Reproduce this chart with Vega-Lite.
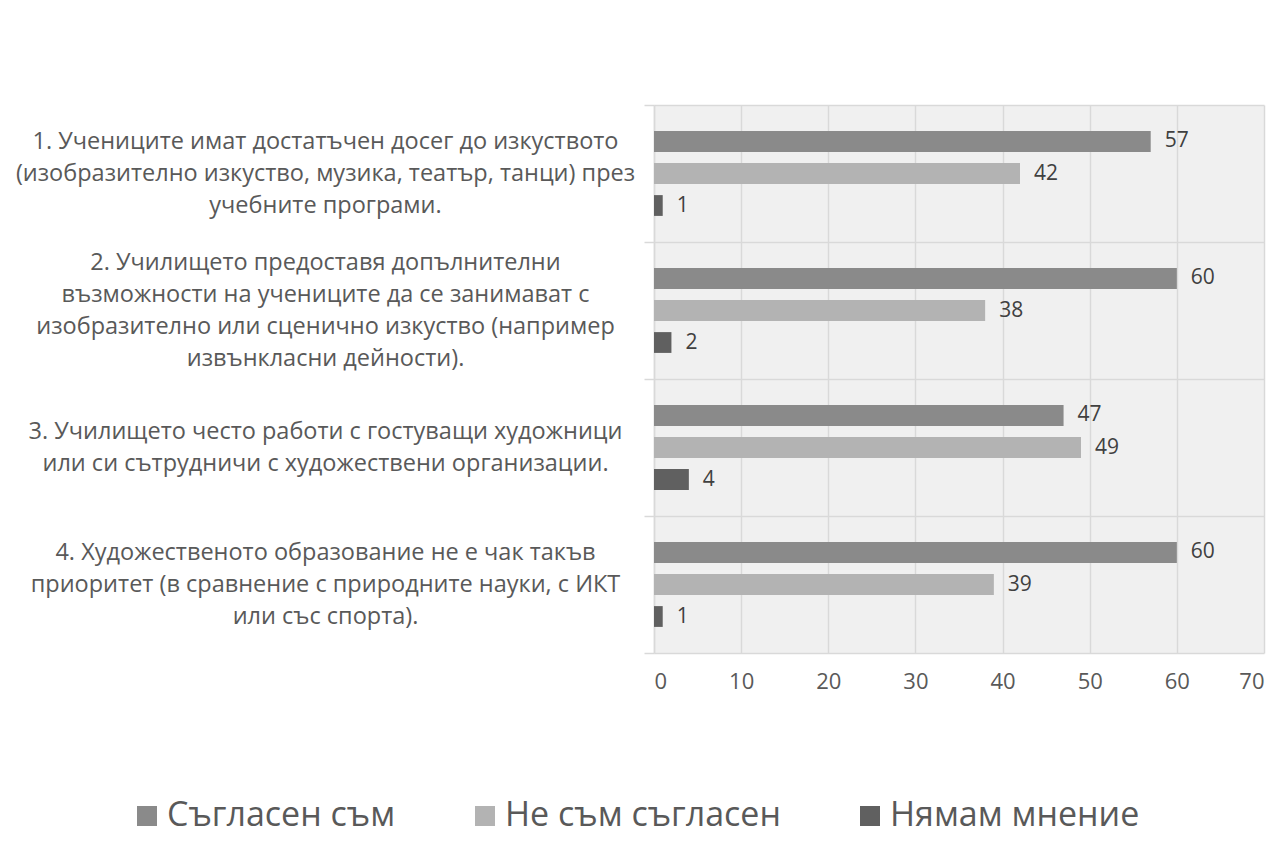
{
  "$schema": "https://vega.github.io/schema/vega-lite/v6.json",
  "width": 610,
  "height": 548,
  "autosize": {"type": "none"},
  "padding": {"left": 654, "top": 105, "right": 16, "bottom": 206},
  "background": "white",
  "data": {
    "values": [
      {"question": "1. Учениците имат достатъчен досег до изкуството\n(изобразително изкуство, музика, театър, танци) през\nучебните програми.", "response": "Съгласен съм", "value": 57},
      {"question": "1. Учениците имат достатъчен досег до изкуството\n(изобразително изкуство, музика, театър, танци) през\nучебните програми.", "response": "Не съм съгласен", "value": 42},
      {"question": "1. Учениците имат достатъчен досег до изкуството\n(изобразително изкуство, музика, театър, танци) през\nучебните програми.", "response": "Нямам мнение", "value": 1},
      {"question": "2. Училището предоставя допълнителни\nвъзможности на учениците да се занимават с\nизобразително или сценично изкуство (например\nизвънкласни дейности).", "response": "Съгласен съм", "value": 60},
      {"question": "2. Училището предоставя допълнителни\nвъзможности на учениците да се занимават с\nизобразително или сценично изкуство (например\nизвънкласни дейности).", "response": "Не съм съгласен", "value": 38},
      {"question": "2. Училището предоставя допълнителни\nвъзможности на учениците да се занимават с\nизобразително или сценично изкуство (например\nизвънкласни дейности).", "response": "Нямам мнение", "value": 2},
      {"question": "3. Училището често работи с гостуващи художници\nили си сътрудничи с художествени организации.", "response": "Съгласен съм", "value": 47},
      {"question": "3. Училището често работи с гостуващи художници\nили си сътрудничи с художествени организации.", "response": "Не съм съгласен", "value": 49},
      {"question": "3. Училището често работи с гостуващи художници\nили си сътрудничи с художествени организации.", "response": "Нямам мнение", "value": 4},
      {"question": "4. Художественото образование не е чак такъв\nприоритет (в сравнение с природните науки, с ИКТ\nили със спорта).", "response": "Съгласен съм", "value": 60},
      {"question": "4. Художественото образование не е чак такъв\nприоритет (в сравнение с природните науки, с ИКТ\nили със спорта).", "response": "Не съм съгласен", "value": 39},
      {"question": "4. Художественото образование не е чак такъв\nприоритет (в сравнение с природните науки, с ИКТ\nили със спорта).", "response": "Нямам мнение", "value": 1}
    ]
  },
  "encoding": {
    "y": {
      "field": "question",
      "type": "nominal",
      "sort": null,
      "scale": {"paddingInner": 0, "paddingOuter": 0},
      "axis": {
        "title": null,
        "tickBand": "extent",
        "grid": true,
        "gridColor": "#d9d9d9",
        "gridWidth": 1.5,
        "tickSize": 10,
        "tickColor": "#d9d9d9",
        "tickWidth": 1.5,
        "domainColor": "#d9d9d9",
        "domainWidth": 1.5,
        "labelAlign": "center",
        "labelBaseline": "middle",
        "labelPadding": 319,
        "labelFont": "Open Sans",
        "labelFontSize": 23.5,
        "labelLineHeight": 32,
        "labelColor": "#595959",
        "labelLimit": 0,
        "labelOffset": {
          "condition": [
            {"test": "isString(datum.value) && length(split(datum.value, '\\n')) == 4", "value": -48},
            {"test": "isString(datum.value) && length(split(datum.value, '\\n')) == 3", "value": -32},
            {"test": "isString(datum.value) && length(split(datum.value, '\\n')) == 2", "value": -16}
          ],
          "value": 0
        },
        "labelExpr": "isString(datum.value) ? split(datum.value, '\\n') : ''"
      }
    },
    "yOffset": {
      "field": "response",
      "type": "nominal",
      "sort": ["Съгласен съм", "Не съм съгласен", "Нямам мнение"],
      "scale": {"paddingInner": 0.35, "paddingOuter": 0.815}
    },
    "x": {
      "field": "value",
      "type": "quantitative",
      "scale": {"domain": [0, 70], "nice": false},
      "axis": {
        "title": null,
        "values": [0, 10, 20, 30, 40, 50, 60, 70],
        "grid": true,
        "gridColor": "#d9d9d9",
        "gridWidth": 1.5,
        "domain": false,
        "ticks": false,
        "labelFont": "Open Sans",
        "labelFontSize": 22,
        "labelColor": "#595959",
        "labelPadding": 18
      }
    }
  },
  "layer": [
    {
      "mark": {"type": "bar"},
      "encoding": {
        "color": {
          "field": "response",
          "type": "nominal",
          "scale": {
            "domain": ["Съгласен съм", "Не съм съгласен", "Нямам мнение"],
            "range": ["#8a8a8a", "#b3b3b3", "#606060"]
          },
          "legend": {
            "title": null,
            "orient": "none",
            "direction": "horizontal",
            "legendX": -524,
            "legendY": 694,
            "symbolType": "square",
            "symbolSize": 400,
            "symbolStrokeWidth": 0,
            "labelFont": "Open Sans",
            "labelFontSize": 34,
            "labelColor": "#595959",
            "labelOffset": 3,
            "labelLimit": 600,
            "columnPadding": 72,
            "padding": 0
          }
        }
      }
    },
    {
      "mark": {"type": "text", "align": "left", "baseline": "middle", "dx": 14, "font": "Open Sans", "fontSize": 21, "color": "#404040"},
      "encoding": {"text": {"field": "value", "type": "quantitative"}}
    }
  ],
  "config": {
    "view": {"fill": "#f0f0f0", "stroke": null}
  }
}
